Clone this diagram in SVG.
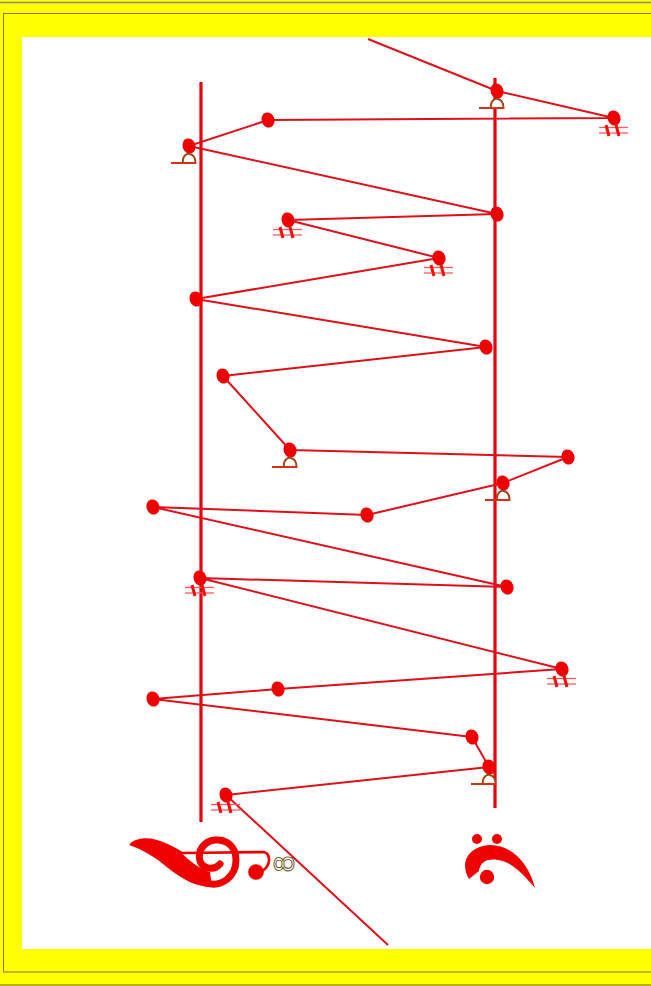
<svg xmlns="http://www.w3.org/2000/svg" width="651" height="986" viewBox="0 0 651 986">
<style>
.staff{stroke:#e8000b;stroke-width:3.2;fill:none}
.conn{stroke:#e0101a;stroke-width:2;fill:none;stroke-linejoin:round}
.head{fill:#ee0000}
.sh-l{stroke:#ff5a5a;stroke-width:1.3}
.sh-b{stroke:#f01010;stroke-width:3}
.fl-s{stroke:#d8301a;stroke-width:2}
.fl-b{fill:#ffffff;stroke:#9a4a18;stroke-width:2}
</style>
<defs>
<ellipse id="nh" class="head" cx="0" cy="0" rx="6.4" ry="7.7" transform="rotate(-20)"/>
<g id="sharp">
<line class="sh-l" x1="-15" y1="9.5" x2="14" y2="9.5"/>
<line class="sh-l" x1="-15" y1="15" x2="14" y2="15"/>
<line class="sh-b" x1="-8" y1="7" x2="-5" y2="18"/>
<line class="sh-b" x1="2" y1="7" x2="5" y2="18"/>
</g>
<g id="flat">
<path class="fl-b" d="M-6,17 C-7,10 -2,7 1,8 C5,9 6.5,13 6.5,17 Z"/>
<line class="fl-s" x1="-18" y1="17" x2="7" y2="17"/>
</g>
</defs>
<rect x="0" y="0" width="651" height="986" fill="#ffff00"/>
<line x1="0" y1="2.5" x2="651" y2="2.5" stroke="#8a8a8a" stroke-width="1.5"/>
<rect x="3.5" y="13.5" width="700" height="958.5" fill="none" stroke="#8a7a30" stroke-width="1"/>
<line x1="0" y1="985" x2="651" y2="985" stroke="#6a6a20" stroke-width="1.2"/>
<rect x="22" y="37" width="640" height="912" fill="#ffffff"/>

<g id="staves">
<line class="staff" x1="201" y1="82" x2="201" y2="822"/>
<line class="staff" x1="495" y1="78" x2="495" y2="808"/>
</g>

<g id="connectors">
<polyline class="conn" points="368,39 497,91 614,118 268,120 189,146 497,214 288,220 439,258 196,299 486,347 223,376 290,450 568,457 503,483 367,515 153,507 507,587 200,578 562,669 278,689 153,699 472,737 489,767 226,795 388,945"/>
</g>

<g id="n1" transform="translate(497,91)"><use href="#nh"/><use href="#flat"/></g>
<g id="n2" transform="translate(614,118)"><use href="#nh"/><use href="#sharp"/></g>
<g id="n3" transform="translate(268,120)"><use href="#nh"/></g>
<g id="n4" transform="translate(189,146)"><use href="#nh"/><use href="#flat"/></g>
<g id="n5" transform="translate(497,214)"><use href="#nh"/></g>
<g id="n6" transform="translate(288,220)"><use href="#nh"/><use href="#sharp"/></g>
<g id="n7" transform="translate(439,258)"><use href="#nh"/><use href="#sharp"/></g>
<g id="n8" transform="translate(196,299)"><use href="#nh"/></g>
<g id="n9" transform="translate(486,347)"><use href="#nh"/></g>
<g id="n10" transform="translate(223,376)"><use href="#nh"/></g>
<g id="n11" transform="translate(290,450)"><use href="#nh"/><use href="#flat"/></g>
<g id="n12" transform="translate(568,457)"><use href="#nh"/></g>
<g id="n13" transform="translate(503,483)"><use href="#nh"/><use href="#flat"/></g>
<g id="n14" transform="translate(367,515)"><use href="#nh"/></g>
<g id="n15" transform="translate(153,507)"><use href="#nh"/></g>
<g id="n16" transform="translate(507,587)"><use href="#nh"/></g>
<g id="n17" transform="translate(200,578)"><use href="#nh"/><use href="#sharp"/></g>
<g id="n18" transform="translate(562,669)"><use href="#nh"/><use href="#sharp"/></g>
<g id="n19" transform="translate(278,689)"><use href="#nh"/></g>
<g id="n20" transform="translate(153,699)"><use href="#nh"/></g>
<g id="n21" transform="translate(472,737)"><use href="#nh"/></g>
<g id="n22" transform="translate(489,767)"><use href="#nh"/><use href="#flat"/></g>
<g id="n23" transform="translate(226,795)"><use href="#nh"/><use href="#sharp"/></g>

<g id="treble-clef">
<path d="M131,844 C146,834 165,843 182,853 L264,852 C271,854 271,866 262,871" fill="none" stroke="#ee0000" stroke-width="2.6"/>
<path d="M129,845 C140,835 160,838 180,852 C191,862 200,869 210,872 L212,887 C196,887 182,879 168,868 C155,857 142,849 129,845 Z" fill="#ee0000"/>
<path d="M206,883 C222,888 236,876 236,860 C236,846 226,839 215,840 C204,841 197,851 200,861 C203,869 214,871 220,864" fill="none" stroke="#ee0000" stroke-width="7" stroke-linecap="round"/>
<circle cx="256" cy="872" r="7.8" fill="#ee0000"/>
<text x="0" y="0" transform="translate(294,864) rotate(-90)" font-family="Liberation Sans, sans-serif" font-size="30" text-anchor="middle" fill="#ffffff" stroke="#5a4a10" stroke-width="0.9">8</text>
</g>

<g id="bass-clef">
<circle cx="477" cy="839" r="5" fill="#ee0000"/>
<circle cx="497" cy="839" r="5" fill="#ee0000"/>
<path d="M469,879 C459,862 469,846 490,845 C512,845 529,864 535,888 C523,874 512,862 498,860 C486,858 480,863 479,871 Z" fill="#ee0000"/>
<circle cx="487" cy="877" r="7.2" fill="#ee0000"/>
</g>
</svg>
